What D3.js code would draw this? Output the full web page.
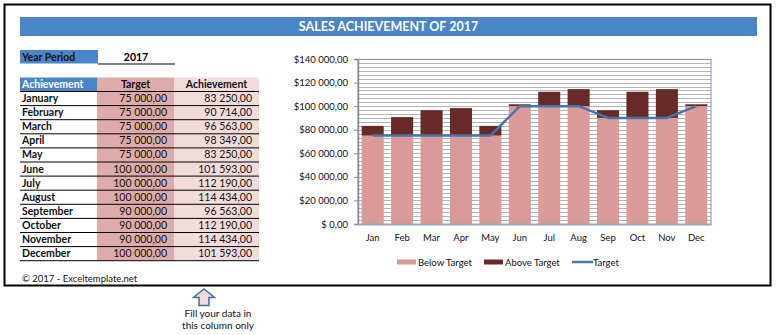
<!DOCTYPE html>
<html>
<head>
<meta charset="utf-8">
<script src="https://cdn.jsdelivr.net/npm/d3@7/dist/d3.min.js"></script>
<style>
  html, body { margin: 0; padding: 0; background: #fff; }
  svg { display: block; }
  text { font-family: Lato, "Open Sans", sans-serif; }
</style>
</head>
<body>
<svg id="c" width="780" height="335"></svg>
<script>
// ---------- data ----------
const title = "SALES ACHIEVEMENT OF 2017";
const yearPeriod = "2017";
const monthsLong = ["January","February","March","April","May","June","July","August","September","October","November","December"];
const monthsShort = ["Jan","Feb","Mar","Apr","May","Jun","Jul","Aug","Sep","Oct","Nov","Dec"];
const target = [75000,75000,75000,75000,75000,100000,100000,100000,90000,90000,90000,100000];
const achievement = [83250,90714,96563,98349,83250,101593,112190,114434,96563,112190,114434,101593];
const belowTarget = [75000,75000,75000,75000,75000,100000,100000,100000,90000,90000,90000,100000];
const aboveTarget = [8250,15714,21563,23349,8250,1593,12190,14434,6563,22190,24434,1593];
const yTickValues = [0,20000,40000,60000,80000,100000,120000,140000];
const yTickLabels = ["$ 0,00","$20 000,00","$40 000,00","$60 000,00","$80 000,00","$100 000,00","$120 000,00","$140 000,00"];
const legendLabels = ["Below Target","Above Target","Target"];

// ---------- styles ----------
const C = {
  blue: "#4a85c9", targetCol: "#dfaaaa", achCol: "#f2dcdb",
  below: "#da9a98", above: "#672a27", line: "#4674ab",
  grid: "#b4b4b4", axis: "#8c8c8c"
};
const loc = d3.formatLocale({decimal: ",", thousands: " ", grouping: [3], currency: ["$", ""]});
const fmt = loc.format(",.2f");

const svg = d3.select("#c");

// outer frame
svg.append("rect").attr("x", 4.5).attr("y", 4.5).attr("width", 766).attr("height", 281)
  .attr("fill", "none").attr("stroke", "#000").attr("stroke-width", 2);

// title bar
svg.append("rect").attr("x", 20).attr("y", 17).attr("width", 737).attr("height", 19).attr("fill", C.blue);
svg.append("text").attr("x", 388.5).attr("y", 31).attr("text-anchor", "middle")
  .attr("font-size", 12.5).attr("font-weight", "bold").attr("fill", "#fff").text(title);

// Year period
svg.append("rect").attr("x", 20).attr("y", 50).attr("width", 78).attr("height", 13.5).attr("fill", C.blue);
svg.append("text").attr("x", 22).attr("y", 60.5).attr("font-size", 10.5).attr("font-weight", "bold").attr("fill", "#111").text("Year Period");
svg.append("text").attr("x", 136).attr("y", 60.5).attr("text-anchor", "middle").attr("font-size", 10.5).attr("font-weight", "bold").attr("fill", "#000").text(yearPeriod);
svg.append("line").attr("x1", 98).attr("x2", 175).attr("y1", 64).attr("y2", 64).attr("stroke", "#000").attr("stroke-width", 1);

// table
const tblTop = 77.5, hdrH = 14, rowH = 14.1;
const colX = [20, 97, 174, 259];
const tblBottom = tblTop + hdrH + rowH * monthsLong.length;
svg.append("rect").attr("x", colX[0]).attr("y", tblTop).attr("width", colX[1] - colX[0]).attr("height", hdrH).attr("fill", C.blue);
svg.append("rect").attr("x", colX[1]).attr("y", tblTop).attr("width", colX[2] - colX[1]).attr("height", tblBottom - tblTop).attr("fill", C.targetCol);
svg.append("rect").attr("x", colX[2]).attr("y", tblTop).attr("width", colX[3] - colX[2]).attr("height", tblBottom - tblTop).attr("fill", C.achCol);
svg.append("text").attr("x", 22).attr("y", tblTop + 10.5).attr("font-size", 10.5).attr("font-weight", "bold").attr("fill", "#fff").text("Achievement");
svg.append("text").attr("x", (colX[1] + colX[2]) / 2).attr("y", tblTop + 10.5).attr("text-anchor", "middle").attr("font-size", 10.5).attr("font-weight", "bold").attr("fill", "#111").text("Target");
svg.append("text").attr("x", (colX[2] + colX[3]) / 2).attr("y", tblTop + 10.5).attr("text-anchor", "middle").attr("font-size", 10.5).attr("font-weight", "bold").attr("fill", "#111").text("Achievement");
svg.append("line").attr("x1", colX[0]).attr("x2", colX[3]).attr("y1", tblTop + hdrH).attr("y2", tblTop + hdrH).attr("stroke", "#000");

const rows = svg.append("g").selectAll("g").data(monthsLong).join("g")
  .attr("transform", (d, i) => `translate(0,${tblTop + hdrH + i * rowH})`);
rows.append("text").attr("x", 22).attr("y", 10.5).attr("font-size", 10.5).attr("font-weight", "bold").attr("fill", "#111").text(d => d);
rows.append("text").attr("x", colX[2] - 7).attr("y", 10.5).attr("text-anchor", "end").attr("font-size", 10.5).attr("fill", "#111").text((d, i) => fmt(target[i]));
rows.append("text").attr("x", colX[3] - 7).attr("y", 10.5).attr("text-anchor", "end").attr("font-size", 10.5).attr("fill", "#111").text((d, i) => fmt(achievement[i]));
rows.append("line").attr("x1", colX[0]).attr("x2", colX[3]).attr("y1", rowH).attr("y2", rowH).attr("stroke", "#000");

svg.append("text").attr("x", 22).attr("y", 282).attr("font-size", 9.5).attr("fill", "#111").text("© 2017 - Exceltemplate.net");

// ---------- chart ----------
const pl = 358, pr = 711, pt = 59, pb = 224;
const x = d3.scaleBand().domain(monthsShort).range([pl, pr]).paddingInner(0.25).paddingOuter(0.125);
const y = d3.scaleLinear().domain([0, 140000]).range([pb, pt]);

// minor gridlines (6 per major)
const minor = d3.range(0, 140001, 20000 / 6);
svg.append("g").selectAll("line").data(minor.slice(1)).join("line")
  .attr("x1", pl).attr("x2", pr).attr("y1", d => Math.round(y(d)) + 0.5).attr("y2", d => Math.round(y(d)) + 0.5)
  .attr("stroke", C.grid).attr("stroke-width", 1);

// stacked bars
svg.append("g").selectAll("rect").data(monthsShort).join("rect")
  .attr("x", d => x(d)).attr("width", x.bandwidth())
  .attr("y", (d, i) => y(belowTarget[i])).attr("height", (d, i) => y(0) - y(belowTarget[i]))
  .attr("fill", C.below);
svg.append("g").selectAll("rect").data(monthsShort).join("rect")
  .attr("x", d => x(d)).attr("width", x.bandwidth())
  .attr("y", (d, i) => y(belowTarget[i] + aboveTarget[i])).attr("height", (d, i) => y(belowTarget[i]) - y(belowTarget[i] + aboveTarget[i]))
  .attr("fill", C.above);

// plot border
svg.append("rect").attr("x", pl).attr("y", pt + 0.5).attr("width", pr - pl).attr("height", pb - pt)
  .attr("fill", "none").attr("stroke", "#6f92c6").attr("stroke-width", 1);

// target line
const line = d3.line().x((d, i) => x(monthsShort[i]) + x.bandwidth() / 2).y(d => y(d));
svg.append("path").datum(target).attr("d", line).attr("fill", "none")
  .attr("stroke", C.line).attr("stroke-width", 2.5).attr("stroke-linejoin", "round");

// y axis
const yAxis = d3.axisLeft(y).tickValues(yTickValues).tickSize(4)
  .tickFormat((d, i) => yTickLabels[i]);
const gy = svg.append("g").attr("transform", `translate(${pl},0)`).call(yAxis);
gy.select(".domain").attr("stroke", C.axis).attr("stroke-width", 1.5);
gy.selectAll(".tick line").attr("stroke", C.axis);
gy.selectAll(".tick text").attr("x", -10).attr("font-size", 9.5).attr("fill", "#111").attr("font-family", "Lato, sans-serif");

// x axis
const xAxis = d3.axisBottom(x).tickSize(0).tickPadding(10);
const gx = svg.append("g").attr("transform", `translate(0,${pb})`).call(xAxis);
gx.select(".domain").attr("stroke", "#99a6bb").attr("stroke-width", 2);
gx.selectAll(".tick text").attr("font-size", 9.5).attr("fill", "#111").attr("font-family", "Lato, sans-serif");

// legend
const lg = svg.append("g").attr("transform", "translate(0,262)");
const legendItems = [
  {x: 397, type: "rect", color: C.below, label: legendLabels[0]},
  {x: 484, type: "rect", color: C.above, label: legendLabels[1]},
  {x: 572, type: "line", color: C.line, label: legendLabels[2]}
];
legendItems.forEach(it => {
  if (it.type === "rect") {
    lg.append("rect").attr("x", it.x).attr("y", -2.5).attr("width", 19).attr("height", 5).attr("fill", it.color);
  } else {
    lg.append("line").attr("x1", it.x).attr("x2", it.x + 21).attr("y1", 0).attr("y2", 0).attr("stroke", it.color).attr("stroke-width", 2.5);
  }
  lg.append("text").attr("x", it.x + 21).attr("y", 3.5).attr("font-size", 9.5).attr("fill", "#111").text(it.label);
});

// arrow + note
svg.append("path")
  .attr("d", "M204,289 L214.5,297.5 L209,297.5 L209,305.5 L199,305.5 L199,297.5 L193.5,297.5 Z")
  .attr("fill", "#f2dcdb").attr("stroke", "#3f6fa8").attr("stroke-width", 1.5).attr("stroke-linejoin", "miter");
svg.append("text").attr("x", 218).attr("y", 316.5).attr("text-anchor", "middle").attr("font-size", 10).attr("fill", "#111").text("Fill your data in");
svg.append("text").attr("x", 218).attr("y", 329).attr("text-anchor", "middle").attr("font-size", 10).attr("fill", "#111").text("this column only");
</script>
</body>
</html>
